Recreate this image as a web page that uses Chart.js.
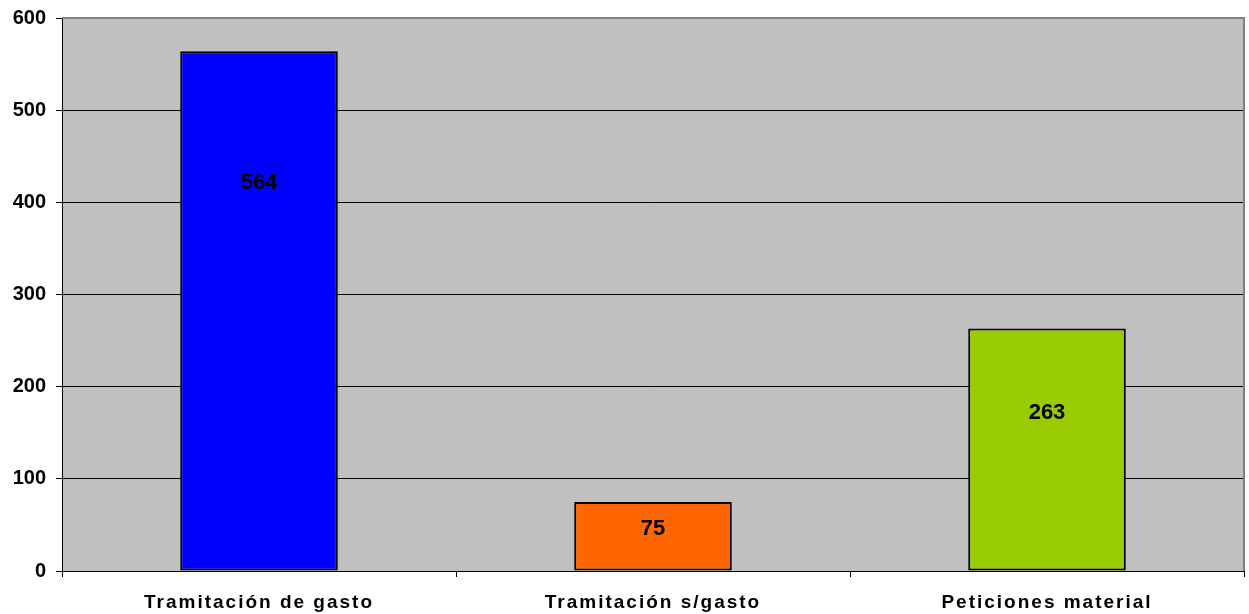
<!DOCTYPE html>
<html>
<head>
<meta charset="utf-8">
<script src="https://cdn.jsdelivr.net/npm/chart.js@4/dist/chart.umd.min.js"></script>
<style>
  html, body { margin: 0; padding: 0; background: #fff; }
  #wrap { width: 1249px; height: 614px; }
</style>
</head>
<body>
<div id="wrap"><canvas id="chart"></canvas></div>
<script>
// data
var categories = ['Tramitación de gasto', 'Tramitación s/gasto', 'Peticiones material'];
var values     = [564, 75, 263];
var barColors  = ['#0000FF', '#FF6600', '#99CC00'];
// value at which each data label sits (Excel put them a bit off-centre)
var labelAt    = [421, 46, 172];

var FONT = '"Liberation Sans", Arial, sans-serif';

// grey plot background + grey frame on top/right
var plotBg = {
  id: 'plotBg',
  beforeDraw: function (chart) {
    var a = chart.chartArea, ctx = chart.ctx;
    ctx.save();
    ctx.fillStyle = '#C0C0C0';
    ctx.fillRect(a.left, a.top, a.right - a.left, a.bottom - a.top);
    ctx.restore();
  },
  afterDatasetsDraw: function (chart) {
    var a = chart.chartArea, ctx = chart.ctx;
    ctx.save();
    ctx.strokeStyle = '#808080';
    ctx.lineWidth = 2;
    ctx.beginPath();
    ctx.moveTo(a.left, a.top);
    ctx.lineTo(a.right, a.top);
    ctx.lineTo(a.right, a.bottom);
    ctx.stroke();
    ctx.restore();
  }
};

// value labels inside the bars + spaced-out category labels
var barLabels = {
  id: 'barLabels',
  afterDatasetsDraw: function (chart) {
    var ctx = chart.ctx, y = chart.scales.y, x = chart.scales.x;
    var meta = chart.getDatasetMeta(0);
    ctx.save();
    ctx.font = 'bold 22px ' + FONT;
    ctx.fillStyle = '#000';
    ctx.textAlign = 'center';
    ctx.textBaseline = 'middle';
    meta.data.forEach(function (bar, i) {
      ctx.fillText(String(values[i]), bar.x, y.getPixelForValue(labelAt[i]));
    });
    ctx.font = 'bold 19px ' + FONT;
    ctx.letterSpacing = '2px';
    categories.forEach(function (c, i) {
      ctx.fillText(c, x.getPixelForValue(i), x.bottom - 11);
    });
    ctx.restore();
  }
};

new Chart(document.getElementById('chart'), {
  type: 'bar',
  data: {
    labels: categories,
    datasets: [{
      data: values,
      backgroundColor: barColors,
      borderColor: '#000',
      borderWidth: 2,
      borderSkipped: false,
      barPercentage: 0.4,
      categoryPercentage: 1
    }]
  },
  options: {
    responsive: true, maintainAspectRatio: false, animation: false,
    layout: { padding: { top: 18, right: 5, left: 0, bottom: 0 } },
    plugins: { legend: { display: false }, tooltip: { enabled: false } },
    scales: {
      x: {
        offset: true,
        grid: { offset: true, drawOnChartArea: false, color: '#000', tickLength: 6 },
        border: { color: '#000', width: 1 },
        ticks: { display: false },
        afterFit: function (s) { s.height = 43; }
      },
      y: {
        min: 0, max: 600,
        grid: { color: '#000', tickLength: 6 },
        border: { color: '#000', width: 1 },
        ticks: {
          stepSize: 100, color: '#000', padding: 10,
          font: { family: FONT, size: 20, weight: 'bold', lineHeight: 1 }
        },
        afterFit: function (s) { s.width = 62; s.paddingTop = 0; }
      }
    }
  },
  plugins: [plotBg, barLabels]
});
</script>
</body>
</html>
